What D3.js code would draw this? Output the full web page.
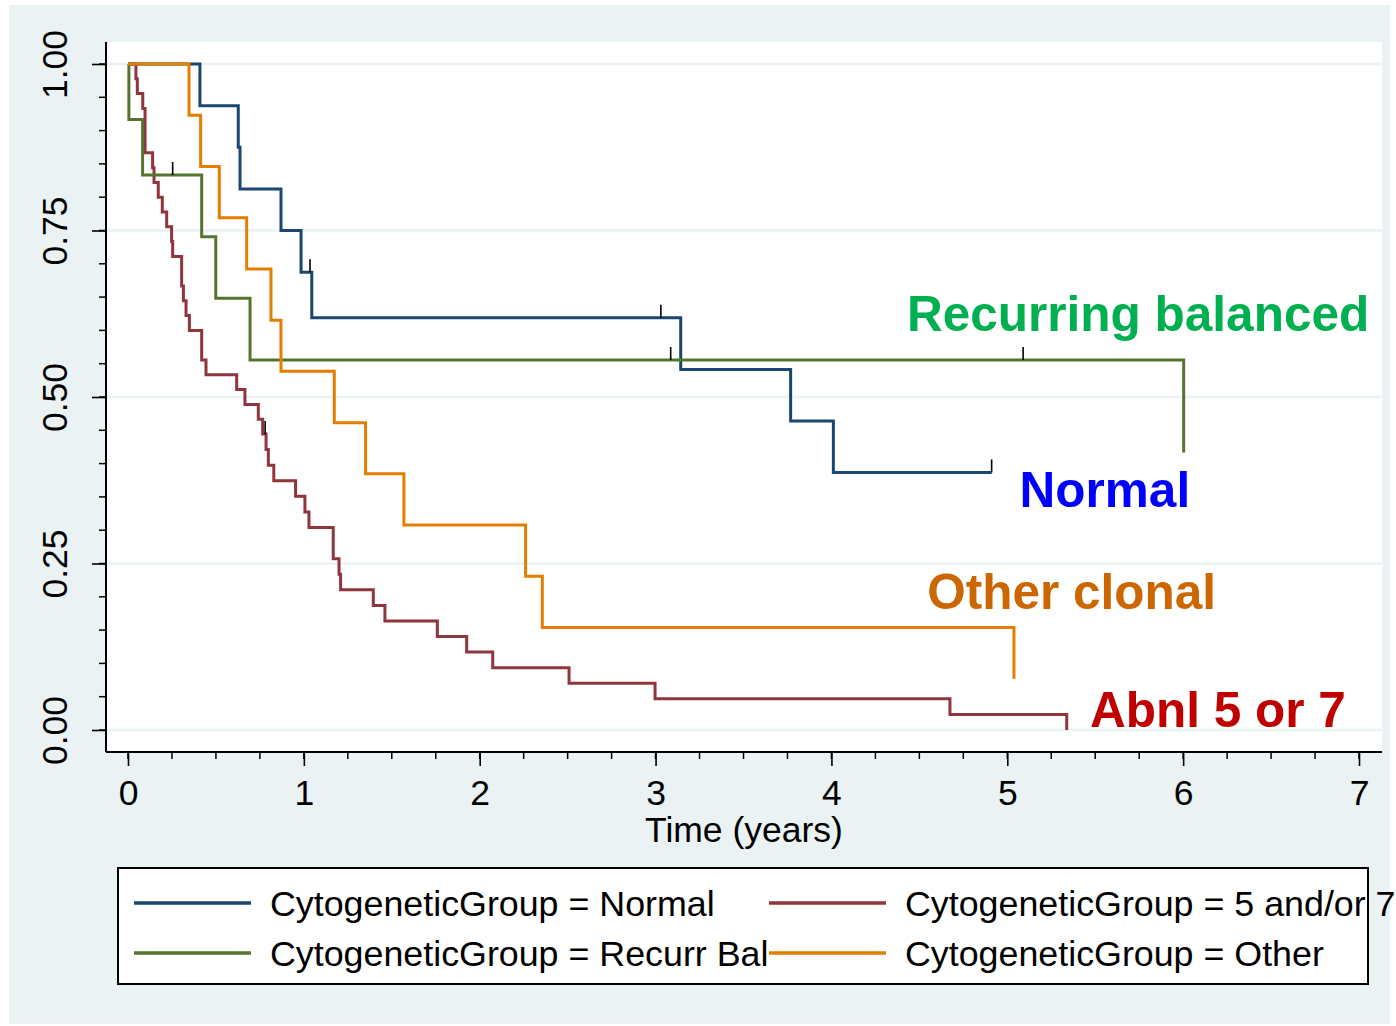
<!DOCTYPE html>
<html>
<head>
<meta charset="utf-8">
<script src="https://cdn.jsdelivr.net/npm/d3@7"></script>
<style>
  html, body { margin: 0; padding: 0; background: #ffffff; }
  svg { display: block; }
  text { font-family: "Liberation Sans", Arial, Helvetica, sans-serif; }
</style>
</head>
<body>
<svg id="chart" width="1396" height="1026"></svg>
<script>
// ---------------- DATA ----------------
const groups = ["Normal", "5 and/or 7", "Recurr Bal", "Other"];
const groupColors = ["#1a476f", "#90353b", "#55752f", "#e37e00"];

// Kaplan-Meier steps: time (years) of each drop and survival after it
const normalTimes = [0.409, 0.627, 0.637, 0.870, 0.984, 1.045, 3.143, 3.768, 4.011, 4.911];
const normalSurv  = [0.9375, 0.875, 0.8125, 0.75, 0.6875, 0.619, 0.5414, 0.4641, 0.3867, 0.3867];
const normalCensorT = [1.035, 3.030, 4.911];
const normalCensorS = [0.6875, 0.619, 0.3867];

const abnlTimes = [0.045, 0.053, 0.084, 0.097, 0.140, 0.148, 0.172, 0.195, 0.220, 0.248, 0.254,
                   0.305, 0.315, 0.330, 0.349, 0.419, 0.4435, 0.618, 0.665, 0.741, 0.766,
                   0.785, 0.798, 0.829, 0.953, 1.006, 1.029, 1.167, 1.200, 1.209, 1.395, 1.461,
                   1.759, 1.926, 2.074, 2.508, 2.997, 4.674, 5.338];
const abnlSurv  = [0.9778, 0.9556, 0.9333, 0.8667, 0.8444, 0.8222, 0.8000, 0.7778, 0.7556, 0.7333, 0.7111,
                   0.6667, 0.6444, 0.6222, 0.6000, 0.5556, 0.5333, 0.5111, 0.4889, 0.4667, 0.4444,
                   0.4211, 0.3977, 0.3743, 0.3509, 0.3275, 0.3041, 0.2573, 0.2339, 0.2105, 0.1871, 0.1637,
                   0.1404, 0.1170, 0.0936, 0.0702, 0.0468, 0.0234, 0.0];
const abnlCensorT = [0.780];
const abnlCensorS = [0.4444];

const recurrTimes = [0.005, 0.083, 0.419, 0.499, 0.694, 6.003];
const recurrSurv  = [0.9167, 0.8333, 0.7407, 0.6481, 0.5556, 0.4167];
const recurrCensorT = [0.254, 3.086, 5.090];
const recurrCensorS = [0.8333, 0.5556, 0.5556];

const otherTimes = [0.347, 0.413, 0.519, 0.675, 0.813, 0.870, 1.173, 1.351, 1.569, 2.261, 2.356, 5.038];
const otherSurv  = [0.9231, 0.8462, 0.7692, 0.6923, 0.6154, 0.5385, 0.4615, 0.3846, 0.3077, 0.2308, 0.1538, 0.0769];
const otherCensorT = [];
const otherCensorS = [];

// axes
const xMajorTicks = [0, 1, 2, 3, 4, 5, 6, 7];
const xMinorStep = 0.25;
const yMajorTicks = [0, 0.25, 0.5, 0.75, 1.0];
const yTickLabels = ["0.00", "0.25", "0.50", "0.75", "1.00"];
const yMinorStep = 0.05;
const xTitle = "Time (years)";

// annotations on the plot
const annoTexts  = ["Recurring balanced", "Normal", "Other clonal", "Abnl 5 or 7"];
const annoColors = ["#00b050", "#0000ff", "#cc6600", "#c00000"];
const annoX = [4.43, 5.07, 4.545, 5.47];       // left edge (years)
const annoY = [0.5995, 0.3353, 0.1812, 0.005]; // baseline (survival units)

// ---------------- LAYOUT ----------------
const svg = d3.select("#chart");
const plotL = 106, plotR = 1382, plotT = 42, plotB = 752;
const x = d3.scaleLinear().domain([0, 7]).range([128, 1359]);
const y = d3.scaleLinear().domain([0, 1]).range([730, 64]);

// outer background
svg.append("rect").attr("x", 9).attr("y", 5).attr("width", 1381).attr("height", 1019)
  .attr("fill", "#eaf2f3");
// plot region
svg.append("rect").attr("x", plotL).attr("y", plotT).attr("width", plotR - plotL).attr("height", plotB - plotT)
  .attr("fill", "#ffffff");

// gridlines
svg.append("g").selectAll("line").data(yMajorTicks).join("line")
  .attr("x1", plotL).attr("x2", plotR)
  .attr("y1", d => y(d)).attr("y2", d => y(d))
  .attr("stroke", "#eaf2f3").attr("stroke-width", 2.5);

// curves
const series = [
  {t: normalTimes, s: normalSurv, ct: normalCensorT, cs: normalCensorS},
  {t: abnlTimes,   s: abnlSurv,   ct: abnlCensorT,   cs: abnlCensorS},
  {t: recurrTimes, s: recurrSurv, ct: recurrCensorT, cs: recurrCensorS},
  {t: otherTimes,  s: otherSurv,  ct: otherCensorT,  cs: otherCensorS}
];
const line = d3.line().x(d => x(d[0])).y(d => y(d[1])).curve(d3.curveStepAfter);
const gCurves = svg.append("g").attr("fill", "none");
series.forEach((sr, i) => {
  const pts = [[0, 1]].concat(sr.t.map((t, k) => [t, sr.s[k]]));
  gCurves.append("path").attr("d", line(pts))
    .attr("stroke", groupColors[i]).attr("stroke-width", 3)
    .attr("stroke-linejoin", "miter").attr("stroke-linecap", "butt");
});
// censor marks
const gCens = svg.append("g");
series.forEach(sr => {
  sr.ct.forEach((t, k) => {
    gCens.append("line")
      .attr("x1", x(t)).attr("x2", x(t))
      .attr("y1", y(sr.cs[k]) - 13).attr("y2", y(sr.cs[k]))
      .attr("stroke", "#000").attr("stroke-width", 1.6);
  });
});

// axes
const xAxis = d3.axisBottom(x).tickValues(xMajorTicks).tickSize(14).tickPadding(14).tickFormat(d3.format("d"));
const gx = svg.append("g").attr("transform", `translate(0,${plotB})`).call(xAxis);
gx.select(".domain").remove();
gx.selectAll(".tick line").attr("stroke", "#000").attr("stroke-width", 1.6);
gx.selectAll(".tick text").attr("font-size", 35.5).attr("fill", "#000")
  .attr("font-family", "'Liberation Sans', Arial, sans-serif");
const xMinor = d3.range(0, 7.0001, xMinorStep);
svg.append("g").selectAll("line").data(xMinor).join("line")
  .attr("x1", d => x(d)).attr("x2", d => x(d))
  .attr("y1", plotB).attr("y2", plotB + 7)
  .attr("stroke", "#000").attr("stroke-width", 1.5);
svg.append("line").attr("x1", plotL).attr("x2", plotR).attr("y1", plotB).attr("y2", plotB)
  .attr("stroke", "#000").attr("stroke-width", 2);

const yAxis = d3.axisLeft(y).tickValues(yMajorTicks).tickSize(14).tickFormat((d, i) => yTickLabels[i]);
const gy = svg.append("g").attr("transform", `translate(${plotL},0)`).call(yAxis);
gy.select(".domain").remove();
gy.selectAll(".tick line").attr("stroke", "#000").attr("stroke-width", 1.6);
gy.selectAll(".tick text")
  .attr("font-size", 35.5).attr("fill", "#000")
  .attr("font-family", "'Liberation Sans', Arial, sans-serif")
  .attr("text-anchor", "middle").attr("dy", null)
  .attr("x", null)
  .attr("transform", "translate(-39,0) rotate(-90)")
  .attr("y", 0);
const yMinor = d3.range(0, 1.0001, yMinorStep);
svg.append("g").selectAll("line").data(yMinor).join("line")
  .attr("x1", plotL - 7).attr("x2", plotL)
  .attr("y1", d => y(d)).attr("y2", d => y(d))
  .attr("stroke", "#000").attr("stroke-width", 1.5);
svg.append("line").attr("x1", plotL).attr("x2", plotL).attr("y1", plotT).attr("y2", plotB)
  .attr("stroke", "#000").attr("stroke-width", 2);

// x title
svg.append("text").attr("x", (plotL + plotR) / 2).attr("y", 842)
  .attr("text-anchor", "middle").attr("font-size", 35.5).attr("fill", "#000").text(xTitle);

// annotations
svg.append("g").selectAll("text").data(annoTexts).join("text")
  .attr("x", (d, i) => x(annoX[i])).attr("y", (d, i) => y(annoY[i]))
  .attr("font-size", 49.5).attr("font-weight", "bold")
  .attr("fill", (d, i) => annoColors[i]).text(d => d);

// legend
const lg = svg.append("g");
lg.append("rect").attr("x", 118).attr("y", 868).attr("width", 1250).attr("height", 116)
  .attr("fill", "#ffffff").attr("stroke", "#000").attr("stroke-width", 2);
const legendPos = [[134, 903], [769, 903], [134, 953], [769, 953]];
groups.forEach((g, i) => {
  const [lx, ly] = legendPos[i];
  lg.append("line").attr("x1", lx).attr("x2", lx + 117).attr("y1", ly).attr("y2", ly)
    .attr("stroke", groupColors[i]).attr("stroke-width", 3.5);
  lg.append("text").attr("x", lx + 136).attr("y", ly + 13)
    .attr("font-size", 35.8).attr("fill", "#000")
    .text("CytogeneticGroup = " + g);
});
</script>
</body>
</html>
